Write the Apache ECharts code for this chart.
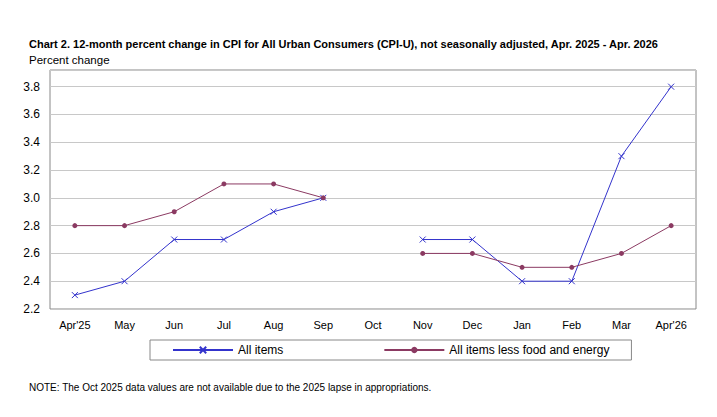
<!DOCTYPE html>
<html>
<head>
<meta charset="UTF-8">
<script src="https://cdn.jsdelivr.net/npm/echarts@6/dist/echarts.min.js"></script>
</head>
<body style="margin:0">
<div id="main" style="width:717px;height:417px;"></div>
<script>
var months = ["Apr'25", 'May', 'Jun', 'Jul', 'Aug', 'Sep', 'Oct', 'Nov', 'Dec', 'Jan', 'Feb', 'Mar', "Apr'26"];
var allItems = [2.3, 2.4, 2.7, 2.7, 2.9, 3.0, null, 2.7, 2.7, 2.4, 2.4, 3.3, 3.8];
var coreItems = [2.8, 2.8, 2.9, 3.1, 3.1, 3.0, null, 2.6, 2.6, 2.5, 2.5, 2.6, 2.8];

var chart = echarts.init(document.getElementById('main'), null, { renderer: 'svg' });
var font = 'Arial, "Liberation Sans", sans-serif';

chart.setOption({
    animation: false,
    textStyle: { fontFamily: font },
    title: [
        { text: 'Chart 2. 12-month percent change in CPI for All Urban Consumers (CPI-U), not seasonally adjusted, Apr. 2025 - Apr. 2026',
          left: 24, top: 33, textStyle: { fontSize: 11, fontWeight: 'bold', color: '#000', fontFamily: font } },
        { text: 'Percent change', left: 24, top: 49, textStyle: { fontSize: 11.5, fontWeight: 'normal', color: '#000', fontFamily: font } },
        { text: 'NOTE: The Oct 2025 data values are not available due to the 2025 lapse in appropriations.',
          left: 24, top: 377, textStyle: { fontSize: 10, fontWeight: 'normal', color: '#000', fontFamily: font } }
    ],
    grid: { left: 50, right: 21, top: 70, bottom: 108, show: true, borderColor: '#888', borderWidth: 1 },
    legend: {
        bottom: 57, left: 150, width: 443, itemGap: 100,
        padding: [4, 22, 4, 22], borderColor: '#888', borderWidth: 1,
        itemWidth: 60, itemHeight: 8, textStyle: { fontSize: 12, color: '#000' },
        data: ['All items', 'All items less food and energy']
    },
    xAxis: {
        type: 'category', data: months, boundaryGap: true,
        axisLine: { show: false }, axisTick: { show: false },
        axisLabel: { color: '#000', fontSize: 11, margin: 10 }
    },
    yAxis: {
        type: 'value', min: 2.2, max: 3.92, interval: 0.2,
        axisLine: { show: false }, axisTick: { show: false },
        splitLine: { lineStyle: { color: '#c8c8c8' } },
        axisLabel: {
            color: '#000', fontSize: 12, margin: 10,
            formatter: function (v) { return v > 3.85 ? '' : v.toFixed(1); }
        }
    },
    series: [
        { name: 'All items', type: 'line', data: allItems, connectNulls: false,
          symbol: 'path://M0,0L10,10M10,0L0,10', symbolSize: 6,
          color: '#3333cc', lineStyle: { width: 1 }, itemStyle: { borderColor: '#3333cc', borderWidth: 1 } },
        { name: 'All items less food and energy', type: 'line', data: coreItems, connectNulls: false,
          symbol: 'circle', symbolSize: 5,
          color: '#8b3a62', lineStyle: { width: 1 } }
    ]
});
</script>
</body>
</html>
